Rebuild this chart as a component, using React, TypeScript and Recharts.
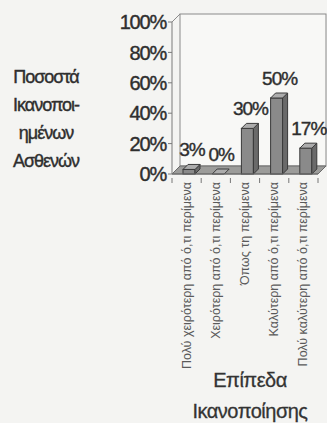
import React from "react";
import { BarChart, Bar, XAxis, YAxis, ReferenceArea, LabelList } from "recharts";

const categories = [
  "Πολύ χειρότερη από ό,τι περίμενα",
  "Χειρότερη από ό,τι περίμενα",
  "Όπως τη περίμενα",
  "Καλύτερη από ό,τι περίμενα",
  "Πολύ καλύτερη από ό,τι περίμενα",
];
const shares = [0.03, 0, 0.3, 0.5, 0.17];
const yTicks = [0, 0.2, 0.4, 0.6, 0.8, 1];
const yTitle = ["Ποσοστά", "Ικανοποι-", "ημένων", "Ασθενών"];
const xTitle = ["Επίπεδα", "Ικανοποίησης"];

const data = categories.map((name, i) => ({ name, value: shares[i] }));

const W = 327;
const H = 423;
const FONT = "'Liberation Sans', Arial, sans-serif";
const DEPTH = 8; // 3d wall / floor depth
const BAR_DEPTH = 5;
const HALF_BAND = (W - 172 - 9) / categories.length / 2;

// back wall + left wall + floor
const Box3D = (props: any) => {
  const { x, y, width, height } = props;
  const b = y + height;
  return (
    <g>
      <rect x={x + DEPTH} y={y - DEPTH} width={width} height={height} fill="#f8f8f6" stroke="#8a8a8a" strokeWidth={1} />
      <line x1={x} y1={y} x2={x + DEPTH} y2={y - DEPTH} stroke="#8a8a8a" />
      <polygon
        points={`${x},${b} ${x + DEPTH},${b - DEPTH} ${x + width + DEPTH},${b - DEPTH} ${x + width},${b}`}
        fill="#9c9c9a"
        stroke="#6a6a6a"
        strokeWidth={1}
      />
    </g>
  );
};

const Bar3D = (props: any) => {
  const { x, y, width, height } = props;
  const bx = x + 2;
  const d = BAR_DEPTH;
  const top = `${bx},${y} ${bx + d},${y - d} ${bx + width + d},${y - d} ${bx + width},${y}`;
  const side = `${bx + width},${y} ${bx + width + d},${y - d} ${bx + width + d},${y + height - d} ${bx + width},${y + height}`;
  return (
    <g stroke="#3a3a3a" strokeWidth={1}>
      {height > 0 && <rect x={bx} y={y} width={width} height={height} fill="#8a8a8a" />}
      {height > 0 && <polygon points={side} fill="#6a6a6a" />}
      <polygon points={top} fill="#acacac" />
    </g>
  );
};

const ValueLabel = (props: any) => {
  const { x, y, width, value } = props;
  return (
    <text
      x={x + width / 2 + 5}
      y={y - BAR_DEPTH - 8}
      textAnchor="middle"
      fontFamily={FONT}
      fontSize={19}
      letterSpacing={-1}
      fill="#2e2e2e"
      stroke="#2e2e2e"
      strokeWidth={0.4}
    >
      {`${Math.round(value * 100)}%`}
    </text>
  );
};

const CategoryTick = (props: any) => {
  const { x, y, payload, index } = props;
  const ax = x + 4;
  const ay = y;
  return (
    <g>
      <line x1={x - HALF_BAND} y1={y - 4} x2={x - HALF_BAND} y2={y + 1} stroke="#777" />
      {index === categories.length - 1 && (
        <line x1={x + HALF_BAND} y1={y - 4} x2={x + HALF_BAND} y2={y + 1} stroke="#777" />
      )}
      <text
        x={ax}
        y={ay}
        transform={`rotate(-90, ${ax}, ${ay})`}
        textAnchor="end"
        fontFamily={FONT}
        fontSize={12.5}
        fill="#5a5a5a"
      >
        {payload.value}
      </text>
    </g>
  );
};

export default function App() {
  return (
    <div style={{ position: "absolute", left: 0, top: 0, width: W, height: H, background: "#f4f4f2", overflow: "hidden" }}>
      <div style={{ position: "absolute", left: 0, top: 63, width: 92, textAlign: "center", fontFamily: FONT, fontSize: 18, lineHeight: "28px", letterSpacing: -1, color: "#2e2e2e", WebkitTextStroke: "0.4px #2e2e2e" }}>
        {yTitle.map((t) => (
          <div key={t}>{t}</div>
        ))}
      </div>
      <div style={{ position: "absolute", left: 185, top: 365, width: 130, textAlign: "center", fontFamily: FONT, fontSize: 20, lineHeight: "31px", letterSpacing: -0.5, color: "#333", WebkitTextStroke: "0.3px #333" }}>
        {xTitle.map((t) => (
          <div key={t}>{t}</div>
        ))}
      </div>
      <BarChart width={W} height={H} data={data} margin={{ top: 22, right: 9, left: 112, bottom: 9 }} barSize={12}>
        <ReferenceArea y1={0} y2={1} shape={<Box3D />} fill="none" ifOverflow="visible" />
        <XAxis
          dataKey="name"
          height={240}
          interval={0}
          tickLine={false}
          axisLine={{ stroke: "#6a6a6a" }}
          tick={<CategoryTick />}
        />
        <YAxis
          domain={[0, 1]}
          ticks={yTicks}
          width={60}
          tickSize={4}
          tickMargin={2}
          axisLine={{ stroke: "#7a7a7a" }}
          tickLine={{ stroke: "#7a7a7a" }}
          tickFormatter={(v: number) => `${Math.round(v * 100)}%`}
          tick={{ fontFamily: FONT, fontSize: 20, fill: "#2e2e2e", letterSpacing: -1.2, stroke: "#2e2e2e", strokeWidth: 0.4 }}
        />
        <Bar dataKey="value" shape={<Bar3D />} isAnimationActive={false}>
          <LabelList dataKey="value" content={<ValueLabel />} />
        </Bar>
      </BarChart>
    </div>
  );
}
